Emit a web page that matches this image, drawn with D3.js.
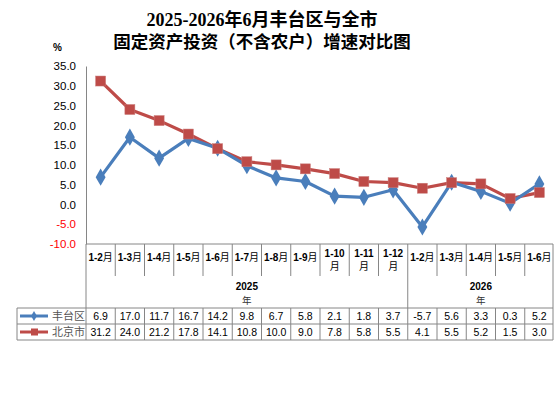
<!DOCTYPE html>
<html><head><meta charset="utf-8">
<script src="https://cdn.jsdelivr.net/npm/d3@7"></script>
<style>
body{margin:0;background:#fff;}
svg{display:block;}
</style></head>
<body>
<svg id="c" width="554" height="405"></svg>
<script>
const categories = ["1-2月","1-3月","1-4月","1-5月","1-6月","1-7月","1-8月","1-9月","1-10月","1-11月","1-12月","1-2月","1-3月","1-4月","1-5月","1-6月"];
const years = [{label:"2025", count:11},{label:"2026", count:5}];
const fengtai = [6.9,17.0,11.7,16.7,14.2,9.8,6.7,5.8,2.1,1.8,3.7,-5.7,5.6,3.3,0.3,5.2];
const beijing = [31.2,24.0,21.2,17.8,14.1,10.8,10.0,9.0,7.8,5.8,5.5,4.1,5.5,5.2,1.5,3.0];
const yTicks = [35,30,25,20,15,10,5,0,-5,-10];
const seriesNames = ["丰台区","北京市"];

(function(){
const svg = d3.select("#c");
const pLeft = 86, pRight = 554, pTop = 66, pBottom = 244;
const x = d3.scaleBand().domain(d3.range(categories.length)).range([pLeft, pRight]);
const y = d3.scaleLinear().domain([-10, 35]).range([pBottom, pTop]);
const blue = "#4A7EBB", red = "#BE4B48", grid = "#868686";
const cjk = "'Noto Sans CJK SC', sans-serif";
const fmt = v => v.toFixed(1);

// Title
svg.append("text").attr("x", 262).attr("y", 26).attr("text-anchor","middle")
  .attr("font-family","'Liberation Serif','Noto Sans CJK SC',serif").attr("font-weight","bold")
  .attr("font-size",18).attr("fill","#000").text("2025-2026年6月丰台区与全市");
svg.append("text").attr("x", 262).attr("y", 48).attr("text-anchor","middle")
  .attr("font-family","'Liberation Serif','Noto Sans CJK SC',serif").attr("font-weight","bold")
  .attr("font-size",17.5).attr("fill","#000").text("固定资产投资（不含农户）增速对比图");
svg.append("text").attr("x", 53).attr("y", 51).attr("font-family","'Liberation Sans',sans-serif")
  .attr("font-weight","bold").attr("font-size",10).attr("fill","#000").text("%");

// Y axis
const yAxis = d3.axisLeft(y).tickValues(yTicks).tickSize(0).tickPadding(10).tickFormat(fmt);
const ya = svg.append("g").attr("transform",`translate(${pLeft},0)`).call(yAxis);
ya.select(".domain").attr("stroke", grid);
ya.selectAll("text").attr("font-family","'Liberation Sans',sans-serif").attr("font-size",11.5)
  .attr("fill", d => d < 0 ? "#FF0000" : "#000");

// Table lines
const tbl = svg.append("g").attr("stroke", grid).attr("stroke-width",1).attr("fill","none");
const hdrBottom = 276, yearBottom = 308, row1Bottom = 324, row2Bottom = 340, tLeft = 17;
const edge = i => i===categories.length ? pRight-1 : x(i);
tbl.append("line").attr("x1",pLeft).attr("x2",pRight-1).attr("y1",pBottom).attr("y2",pBottom);
d3.range(categories.length+1).forEach(i=>{
  tbl.append("line").attr("x1",edge(i)).attr("x2",edge(i)).attr("y1",pBottom).attr("y2",hdrBottom);
});
let acc = 0;
const yearBounds = [0];
years.forEach(yv=>{acc+=yv.count; yearBounds.push(acc);});
yearBounds.forEach(b=>{
  tbl.append("line").attr("x1",edge(b)).attr("x2",edge(b)).attr("y1",hdrBottom).attr("y2",yearBottom);
});
[yearBottom,row1Bottom,row2Bottom].forEach(yy=>{
  tbl.append("line").attr("x1",tLeft).attr("x2",pRight-1).attr("y1",yy).attr("y2",yy);
});
d3.range(categories.length+1).forEach(i=>{
  tbl.append("line").attr("x1",edge(i)).attr("x2",edge(i)).attr("y1",yearBottom).attr("y2",row2Bottom);
});
tbl.append("line").attr("x1",tLeft).attr("x2",tLeft).attr("y1",yearBottom).attr("y2",row2Bottom);

// Category labels
categories.forEach((c,i)=>{
  const cx = x(i)+x.bandwidth()/2;
  const m = c.match(/^(1-\d+)(月)$/);
  if (m[1].length > 3) {
    const t = svg.append("text").attr("x",cx).attr("text-anchor","middle")
      .attr("font-family",cjk).attr("font-size",10).attr("fill","#000");
    t.append("tspan").attr("x",cx).attr("y",257).attr("font-family","'Liberation Sans',sans-serif").attr("font-weight","bold").text(m[1]);
    t.append("tspan").attr("x",cx).attr("y",270).text(m[2]);
  } else {
    const t = svg.append("text").attr("x",cx).attr("y",261).attr("text-anchor","middle")
      .attr("font-size",10).attr("fill","#000");
    t.append("tspan").attr("font-family","'Liberation Sans',sans-serif").attr("font-weight","bold").text(m[1]);
    t.append("tspan").attr("font-family",cjk).text(m[2]);
  }
});
// Year labels
years.forEach((yv,k)=>{
  const x0 = x(yearBounds[k]);
  const x1 = yearBounds[k+1]===categories.length ? pRight : x(yearBounds[k+1]);
  const cx = (x0+x1)/2;
  svg.append("text").attr("x",cx).attr("y",290).attr("text-anchor","middle")
    .attr("font-family","'Liberation Sans',sans-serif").attr("font-weight","bold").attr("font-size",10).attr("fill","#000").text(yv.label);
  svg.append("text").attr("x",cx).attr("y",304).attr("text-anchor","middle")
    .attr("font-family",cjk).attr("font-size",9.5).attr("fill","#333").text("年");
});

// Data rows
const rows = [fengtai, beijing];
const colors = [blue, red];
rows.forEach((vals,r)=>{
  const yy = (r===0 ? yearBottom : row1Bottom) + 12;
  vals.forEach((v,i)=>{
    svg.append("text").attr("x",x(i)+x.bandwidth()/2).attr("y",yy).attr("text-anchor","middle")
      .attr("font-family","'Liberation Sans',sans-serif").attr("font-size",10.5).attr("fill","#000")
      .text(fmt(v));
  });
  const ly = yy - 4;
  svg.append("line").attr("x1",20).attr("x2",48).attr("y1",ly).attr("y2",ly).attr("stroke",colors[r]).attr("stroke-width",3);
  if (r===0) {
    svg.append("path").attr("d",d3.symbol(d3.symbolDiamond,30)()).attr("transform",`translate(34,${ly})`).attr("fill",colors[r]);
  } else {
    svg.append("rect").attr("x",31).attr("y",ly-3.5).attr("width",7).attr("height",7).attr("fill",colors[r]);
  }
  svg.append("text").attr("x",52).attr("y",yy).attr("font-family",cjk).attr("font-size",11).attr("fill","#555").text(seriesNames[r]);
});

// Lines
const line = d3.line().x((d,i)=>x(i)+x.bandwidth()/2).y(d=>y(d));
svg.append("path").datum(beijing).attr("d",line).attr("fill","none").attr("stroke",red).attr("stroke-width",3.2).attr("stroke-linejoin","round");
svg.append("path").datum(fengtai).attr("d",line).attr("fill","none").attr("stroke",blue).attr("stroke-width",3.2).attr("stroke-linejoin","round");
svg.append("g").selectAll("path").data(fengtai).join("path")
  .attr("d",d3.symbol(d3.symbolDiamond,85)())
  .attr("transform",(d,i)=>`translate(${x(i)+x.bandwidth()/2},${y(d)})`).attr("fill",blue);
svg.append("g").selectAll("rect").data(beijing).join("rect")
  .attr("x",(d,i)=>x(i)+x.bandwidth()/2-5).attr("y",d=>y(d)-5).attr("width",10).attr("height",10)
  .attr("fill",red).attr("stroke","#C97b79").attr("stroke-width",0.5);
})();
</script>
</body></html>
